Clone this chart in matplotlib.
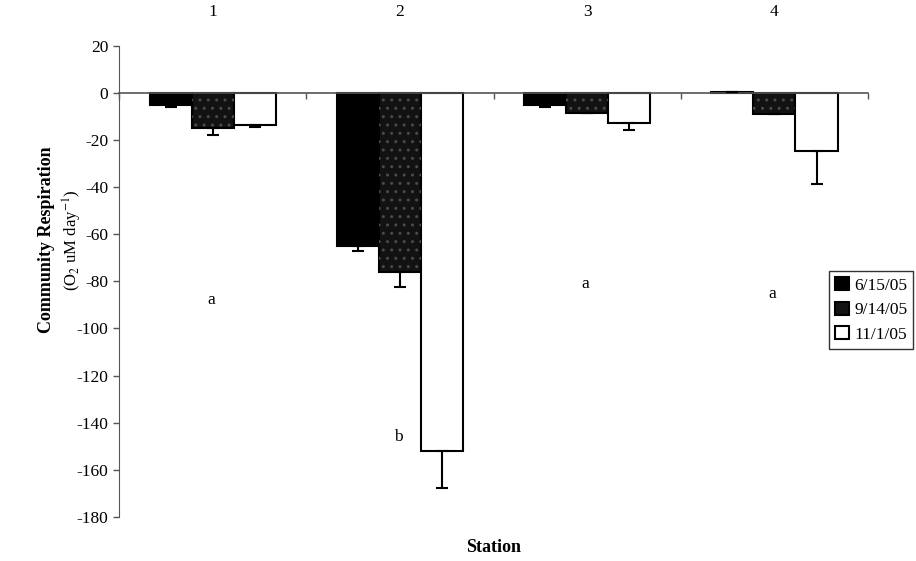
import matplotlib
matplotlib.use("Agg")
import matplotlib.pyplot as plt
import numpy as np

stations = ["1", "2", "3", "4"]
dates = ["6/15/05", "9/14/05", "11/1/05"]

# mean community respiration per date (rows) and station (cols)
resp_jun = [-5.0, -65.0, -5.0, 0.5]
resp_sep = [-15.0, -76.0, -8.4, -8.8]
resp_nov = [-13.5, -152.0, -12.6, -24.5]

# lower error bars only
err_jun = [1.2, 2.0, 1.2, 0.0]
err_sep = [2.8, 6.5, 0.0, 0.0]
err_nov = [0.8, 15.5, 3.0, 14.0]

# significance letters per station
letters = ["a", "b", "a", "a"]
letter_y = [-88, -146, -81, -85.5]

plt.rcParams['font.family'] = ['Liberation Serif', 'DejaVu Serif']
plt.rcParams['mathtext.fontset'] = 'stix'
plt.rcParams['axes.unicode_minus'] = False

fig = plt.figure(figsize=(9.16, 5.61), dpi=100)
ax = fig.add_axes([0.1302, 0.0784, 0.8174, 0.8401])

x = np.arange(len(stations))
w = 0.225
series = [resp_jun, resp_sep, resp_nov]
errors = [err_jun, err_sep, err_nov]
faces = ['black', '#121212', 'white']

for i, (vals, errs, fc) in enumerate(zip(series, errors, faces)):
    pos = x + (i - 1) * w
    ax.bar(pos, vals, w, color=fc, edgecolor='black', linewidth=1.5,
           label=dates[i], zorder=2)
    if i == 1:
        # dotted texture on the dark grey bars
        ax.bar(pos, vals, w, color='none', edgecolor='#4a4a4a', linewidth=0,
               hatch='..', zorder=3)
    lower = np.array(errs)
    ax.errorbar(pos, vals, yerr=[lower, np.zeros_like(lower)], fmt='none',
                ecolor='black', elinewidth=1.5, capsize=4, capthick=1.5, zorder=4)

for i, (t, ly) in enumerate(zip(letters, letter_y)):
    ax.text(x[i] - 0.01, ly, t, ha='center', va='center', fontsize=12.5)

ax.set_xlim(-0.5, 3.5)
ax.set_ylim(-180, 20)
ax.set_yticks(np.arange(-180, 21, 20))
ax.tick_params(axis='y', direction='out', length=4, width=1, color='#555',
               labelsize=12.5, pad=4)

ax.spines['bottom'].set_position(('data', 0))
ax.spines['bottom'].set_color('#555')
ax.spines['bottom'].set_linewidth(1.2)
ax.spines['left'].set_color('#555')
ax.spines['top'].set_visible(False)
ax.spines['right'].set_visible(False)

ax.set_xticks(x)
ax.set_xticklabels(stations)
ax.set_xticks(np.arange(-0.5, 3.6, 1.0), minor=True)
ax.tick_params(axis='x', which='major', bottom=False, top=False,
               labelbottom=False, labeltop=True, labelsize=12.5, pad=15)
ax.tick_params(axis='x', which='minor', bottom=True, direction='out',
               length=4, width=1, color='#555')

fig.text(0.539, 1 - 548 / 561, "Station", ha='center', va='center',
         fontsize=13, fontweight='bold')
fig.text(47 / 916, 1 - 240 / 561, "Community Respiration", rotation=90,
         ha='center', va='center', fontsize=13, fontweight='bold')
fig.text(72 / 916, 1 - 240 / 561, r"(O$_2$ uM day$^{-1}$)", rotation=90,
         ha='center', va='center', fontsize=12)

leg = ax.legend(loc='upper left', bbox_to_anchor=(829 / 916, 1 - 271 / 561),
                bbox_transform=fig.transFigure, fontsize=12.5, frameon=True,
                fancybox=False, borderaxespad=0, handlelength=0.8,
                handleheight=0.8, handletextpad=0.3, labelspacing=0.45,
                borderpad=0.35)
leg.get_frame().set_edgecolor('black')
leg.get_frame().set_linewidth(1)

fig.savefig("out.png", dpi=100)
